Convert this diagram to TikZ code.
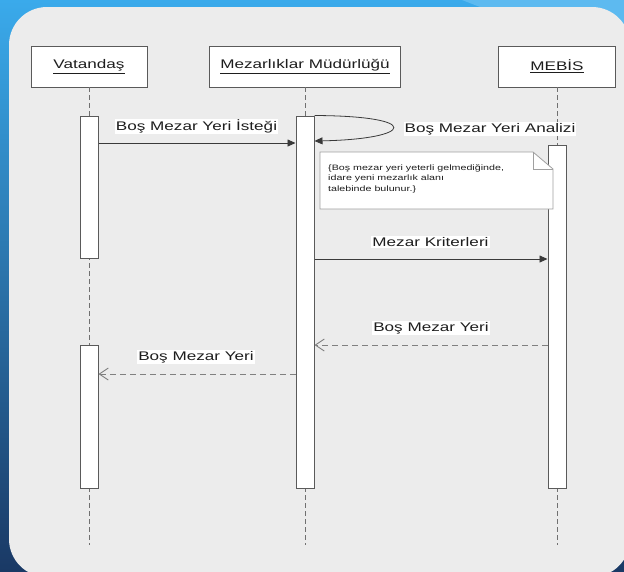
\documentclass[tikz,border=0pt]{standalone}
\usepackage{fontspec}
\setmainfont[FakeStretch=1.37]{Liberation Sans}
\usetikzlibrary{arrows.meta}
\definecolor{bgtop}{HTML}{3AAAEB}
\definecolor{bgbot}{HTML}{1A3965}
\definecolor{bglight}{HTML}{5DBAF0}
\definecolor{panel}{HTML}{ECECEC}
\definecolor{ink}{HTML}{1E1E1E}
\definecolor{boxline}{HTML}{5A5A5A}
\definecolor{lifeline}{HTML}{707070}
\definecolor{msgline}{HTML}{3A3A3A}
\definecolor{retline}{HTML}{808080}
\definecolor{noteline}{HTML}{A0A0A0}
\begin{document}
\begin{tikzpicture}[x=1pt,y=-1pt,
  lbl/.style={font=\fontsize{12.5}{15}\selectfont, text=ink, fill=white, inner sep=1pt},
  hdr/.style={draw=boxline, fill=white, line width=0.9pt, minimum height=41pt, inner sep=0pt, font=\fontsize{12.5}{15}\selectfont, text=ink},
  actbox/.style={draw=boxline, fill=white, line width=1pt, minimum width=18pt, inner sep=0pt},
  lifel/.style={draw=lifeline, line width=1pt, dash pattern=on 5pt off 3pt},
  msg/.style={draw=msgline, line width=0.8pt, -{Triangle[length=8pt,width=7pt]}},
  ret/.style={draw=retline, line width=0.9pt, dash pattern=on 6pt off 4pt, -{Straight Barb[length=9pt,width=12pt]}},
  notebox/.style={fill=white, draw=noteline, line width=0.8pt}
]
\useasboundingbox (0,0) rectangle (624,571);
\begin{scope}[y=1pt]
\shade[top color=bgtop, bottom color=bgbot] (0,-571) rectangle (624,0);
\end{scope}
\fill[bglight] (462,0) -- (624,0) -- (624,30) -- (480,7) -- cycle;
\fill[panel, rounded corners=38pt] (9,7) rectangle (630,577);

% headers
\node[hdr, minimum width=116pt] (vh) at (89,66.5) {\underline{Vatandaş}};
\node[hdr, minimum width=191pt] (mh) at (305,66.5) {\underline{Mezarlıklar Müdürlüğü}};
\node[hdr, minimum width=117pt] (eh) at (557,66.5) {\underline{MEBİS}};

% lifelines
\coordinate (vend) at (89,545);
\coordinate (mend) at (305,545);
\coordinate (eend) at (557,545);
\draw[lifel] (vh.south) -- (vend);
\draw[lifel] (mh.south) -- (mend);
\draw[lifel] (eh.south) -- (eend);

% activations
\node[actbox, minimum height=142pt] (va1) at (89,187) {};
\node[actbox, minimum height=143pt] (va2) at (89,416.5) {};
\node[actbox, minimum height=372pt] (ma) at (305,302) {};
\node[actbox, minimum height=343pt] (ea) at (557,316.5) {};

% message 1
\coordinate (y1) at (0,143);
\draw[msg] (va1.east |- y1) -- (ma.west |- y1);
\node[lbl] (l1) at (196.5,126.5) {Boş Mezar Yeri İsteği};

% self message
\coordinate (y2) at (0,141);
\draw[msg] (ma.north east) .. controls (424,116) and (414,139) .. (ma.east |- y2);
\node[lbl] (l2) at (490,129) {Boş Mezar Yeri Analizi};

% note
\coordinate (n1) at (320,152);
\coordinate (n2) at (533,152);
\coordinate (n3) at (553,169);
\coordinate (n4) at (553,209);
\coordinate (n5) at (320,209);
\coordinate (n6) at (533,169);
\path[notebox] (n1) -- (n2) -- (n3) -- (n4) -- (n5) -- cycle;
\draw[draw=noteline, line width=0.8pt] (n2) -- (n6) -- (n3);
\node[anchor=north west, align=left, font=\fontsize{7.8}{10.5}\selectfont, text=ink, inner sep=0pt] (nt) at (328,164.5)
  {\{Boş mezar yeri yeterli gelmediğinde,\\idare yeni mezarlık alanı\\talebinde bulunur.\}};

% message 3
\coordinate (y3) at (0,259);
\draw[msg] (ma.east |- y3) -- (ea.west |- y3);
\node[lbl] (l3) at (430.5,242) {Mezar Kriterleri};

% return 1
\coordinate (y4) at (0,345);
\draw[ret] (ea.west |- y4) -- (ma.east |- y4);
\node[lbl] (l4) at (431,328) {Boş Mezar Yeri};

% return 2
\coordinate (y5) at (0,374);
\draw[ret] (ma.west |- y5) -- (va2.east |- y5);
\node[lbl] (l5) at (196,357) {Boş Mezar Yeri};
\end{tikzpicture}
\end{document}
